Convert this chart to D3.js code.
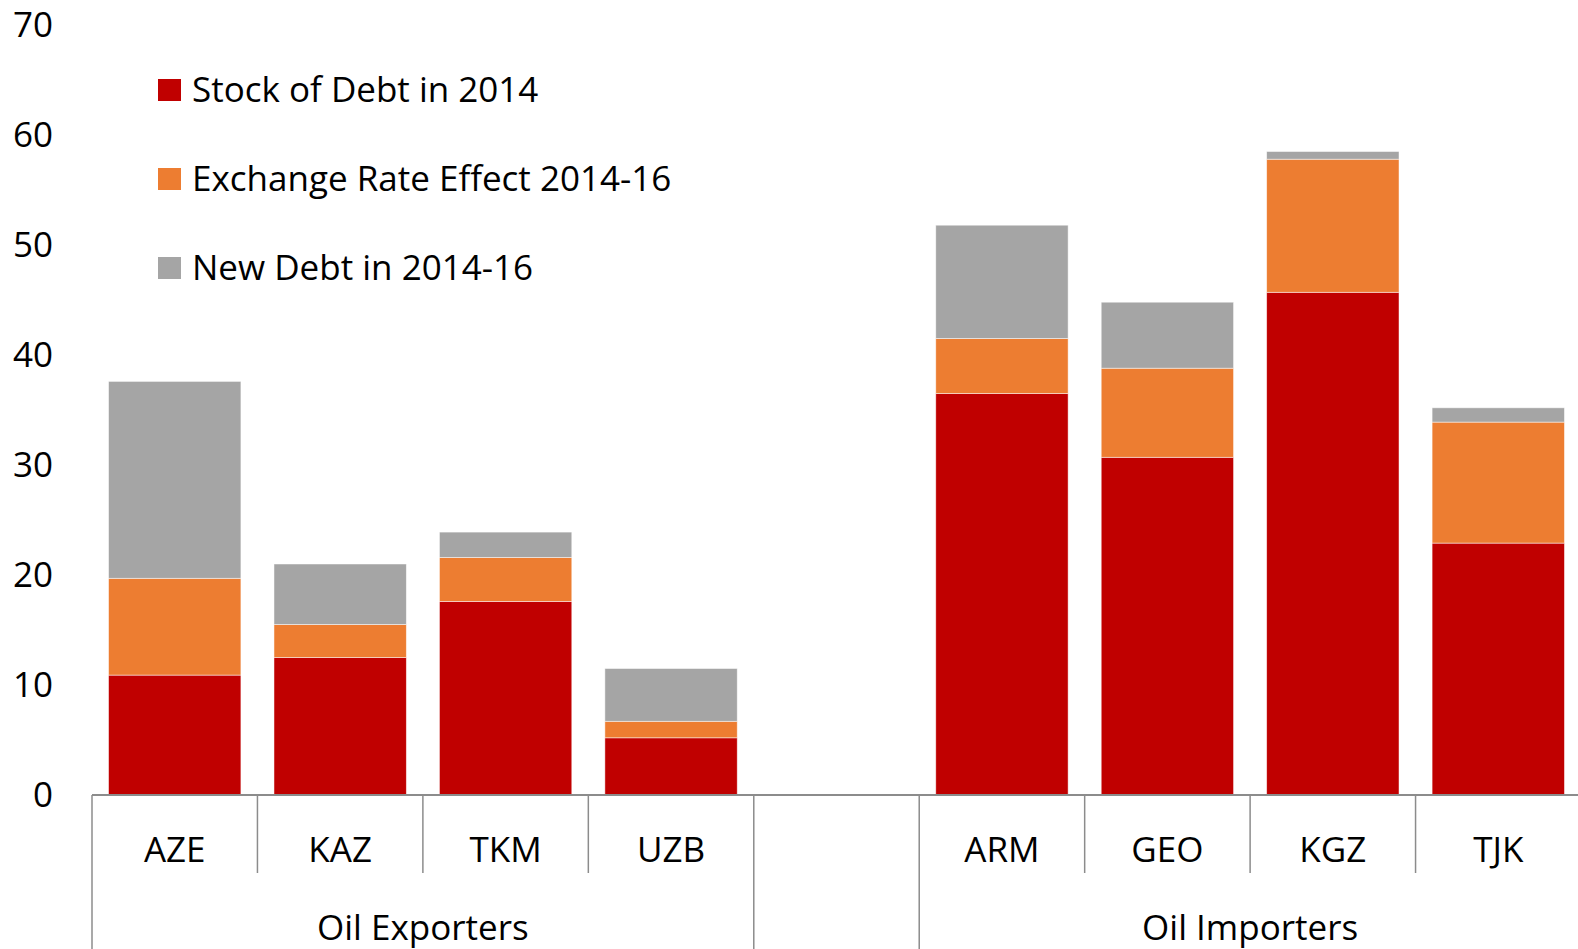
<!DOCTYPE html>
<html>
<head>
<meta charset="utf-8">
<script src="https://cdn.jsdelivr.net/npm/d3@7"></script>
<style>
  body { margin: 0; background: #fff; }
  svg text { font-family: "Open Sans", "Noto Sans", sans-serif; fill: #000; }
</style>
</head>
<body>
<svg id="chart"></svg>
<script>
// categories, "" is the empty gap slot between the two groups
const countries = ['AZE', 'KAZ', 'TKM', 'UZB', '', 'ARM', 'GEO', 'KGZ', 'TJK'];
const groups = [
  {name: 'Oil Exporters', from: 0, to: 3},
  {name: 'Oil Importers', from: 5, to: 8}
];
const seriesNames = ['Stock of Debt in 2014', 'Exchange Rate Effect 2014-16', 'New Debt in 2014-16'];
const stockDebt   = [10.9, 12.5, 17.6, 5.2, 0, 36.5, 30.7, 45.7, 22.9];
const exchEffect  = [ 8.8,  3.0,  4.0, 1.5, 0,  5.0,  8.1, 12.1, 11.0];
const newDebt     = [17.9,  5.5,  2.3, 4.8, 0, 10.3,  6.0,  0.7,  1.3];
const yTicks = [0, 10, 20, 30, 40, 50, 60, 70];
const colors = ['#C00000', '#ED7D31', '#A5A5A5'];

const width = 1578, height = 949;
const fontSize = 35;
const svg = d3.select('#chart').attr('width', width).attr('height', height);

const rows = countries.map((c, i) => ({
  key: c + i, label: c,
  s0: stockDebt[i], s1: exchEffect[i], s2: newDebt[i]
}));

const x = d3.scaleBand()
  .domain(rows.map(d => d.key))
  .range([92, 1581])
  .paddingInner(0.2)
  .paddingOuter(0.1);

const y = d3.scaleLinear().domain([0, 70]).range([795, 25]);

const stack = d3.stack().keys(['s0', 's1', 's2']);
const layers = stack(rows);

// bars
svg.append('g').selectAll('g')
  .data(layers)
  .join('g')
    .attr('fill', (d, i) => colors[i])
  .selectAll('rect')
  .data(d => d.filter(p => p[1] > p[0]))
  .join('rect')
    .attr('x', p => x(p.data.key))
    .attr('width', x.bandwidth())
    .attr('y', p => y(p[1]))
    .attr('height', p => y(p[0]) - y(p[1]))
    .attr('stroke', '#fff')
    .attr('stroke-opacity', 0.6)
    .attr('stroke-width', 0.8);

// y tick labels (no axis line)
svg.append('g').selectAll('text')
  .data(yTicks)
  .join('text')
    .attr('x', 53)
    .attr('y', d => y(d))
    .attr('dy', '0.35em')
    .attr('text-anchor', 'end')
    .attr('font-size', fontSize)
    .text(d => d);

// x axis baseline and separators
const axisCol = '#8c8c8c';
const pad = x.step() * x.paddingOuter();
const bounds = rows.map(d => x(d.key) - pad).concat([x(rows[rows.length - 1].key) + x.bandwidth() + pad]);
const longIdx = [0, 4, 5];

const ax = svg.append('g');
ax.append('line')
  .attr('x1', bounds[0]).attr('x2', width)
  .attr('y1', y(0)).attr('y2', y(0))
  .attr('stroke', axisCol).attr('stroke-width', 2);

ax.selectAll('.sep')
  .data(bounds)
  .join('line')
    .attr('class', 'sep')
    .attr('x1', d => d).attr('x2', d => d)
    .attr('y1', y(0))
    .attr('y2', (d, i) => longIdx.includes(i) ? height : 873)
    .attr('stroke', axisCol).attr('stroke-width', 1.5);

ax.selectAll('.cat')
  .data(rows)
  .join('text')
    .attr('class', 'cat')
    .attr('x', d => x(d.key) + x.bandwidth() / 2)
    .attr('y', 850)
    .attr('dy', '0.35em')
    .attr('text-anchor', 'middle')
    .attr('font-size', fontSize)
    .text(d => d.label);

ax.selectAll('.grp')
  .data(groups)
  .join('text')
    .attr('class', 'grp')
    .attr('x', g => (bounds[g.from] + bounds[g.to + 1]) / 2)
    .attr('y', 928)
    .attr('dy', '0.35em')
    .attr('text-anchor', 'middle')
    .attr('font-size', fontSize)
    .text(g => g.name);

// legend
const leg = svg.append('g').attr('transform', 'translate(158, 90)');
const items = leg.selectAll('g')
  .data(seriesNames)
  .join('g')
    .attr('transform', (d, i) => `translate(0, ${i * 89})`);
items.append('rect')
  .attr('x', 0).attr('y', -11)
  .attr('width', 23).attr('height', 22)
  .attr('fill', (d, i) => colors[i]);
items.append('text')
  .attr('x', 34)
  .attr('y', 0)
  .attr('dy', '0.35em')
  .attr('font-size', fontSize)
  .text(d => d);
</script>
</body>
</html>
